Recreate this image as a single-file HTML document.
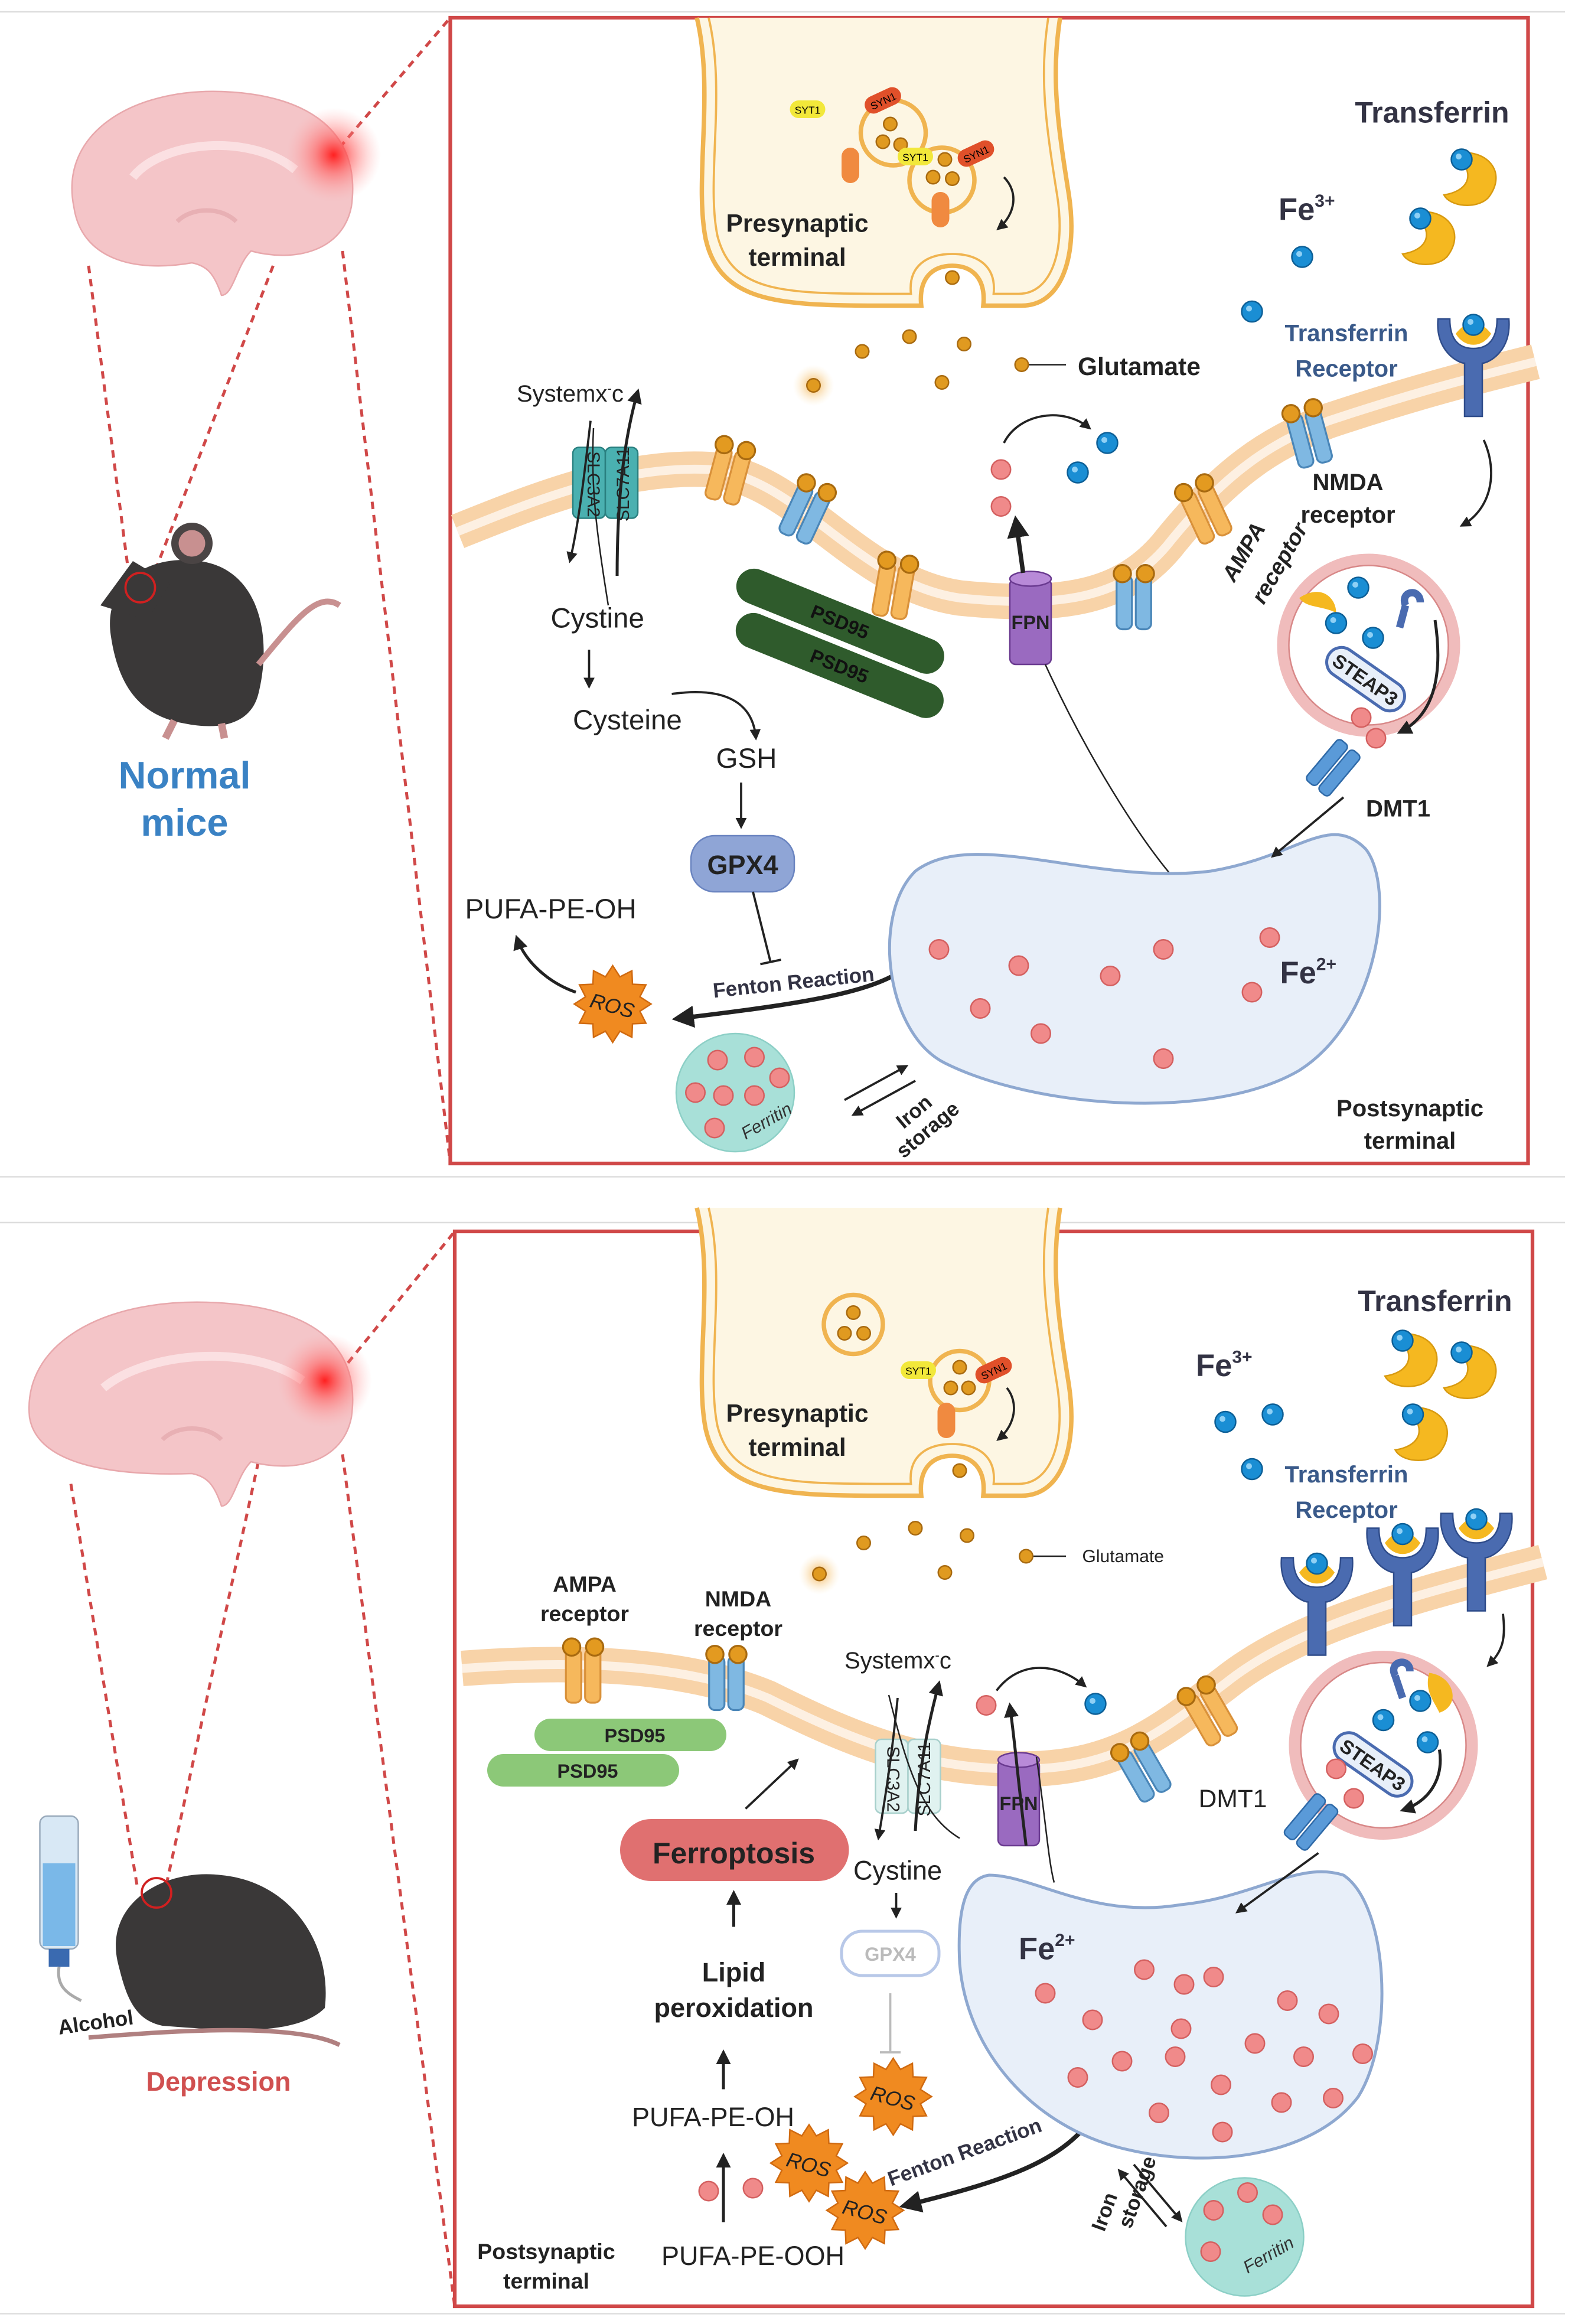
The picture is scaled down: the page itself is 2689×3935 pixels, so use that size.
<!DOCTYPE html>
<html><head><meta charset="utf-8"><style>html,body{margin:0;padding:0;background:#fff}svg{display:block}text{font-family:"Liberation Sans",sans-serif}</style></head><body>
<svg width="2689" height="3935" viewBox="0 0 1075.6 1574" xmlns="http://www.w3.org/2000/svg">
<defs>
<radialGradient id="glow"><stop offset="0" stop-color="#ff2020"/><stop offset=".4" stop-color="#ff6060" stop-opacity=".6"/><stop offset="1" stop-color="#ffaaaa" stop-opacity="0"/></radialGradient>
<radialGradient id="glow2"><stop offset="0" stop-color="#e08a10"/><stop offset=".35" stop-color="#f5c070" stop-opacity=".6"/><stop offset="1" stop-color="#fde8c0" stop-opacity="0"/></radialGradient>
<g id="rO"><g transform="scale(1.3)"><rect x="-9" y="-14" width="8" height="28" rx="3" fill="#f6b85c" stroke="#d9913a"/><rect x="1" y="-14" width="8" height="28" rx="3" fill="#f6b85c" stroke="#d9913a"/><circle cx="-6" cy="-15" r="4.5" fill="#e39a20" stroke="#a86a10"/><circle cx="6" cy="-15" r="4.5" fill="#e39a20" stroke="#a86a10"/></g></g>
<g id="rB"><g transform="scale(1.3)"><rect x="-9" y="-14" width="8" height="28" rx="3" fill="#7fb8e2" stroke="#4a86b8"/><rect x="1" y="-14" width="8" height="28" rx="3" fill="#7fb8e2" stroke="#4a86b8"/><circle cx="-6" cy="-15" r="4.5" fill="#e39a20" stroke="#a86a10"/><circle cx="6" cy="-15" r="4.5" fill="#e39a20" stroke="#a86a10"/></g></g>
<g id="f2"><circle r="6.5" fill="#f08a8a" stroke="#d46060"/></g>
<g id="f3"><circle r="7" fill="#1a8ed4" stroke="#0d5f96"/><circle cx="-2" cy="-2" r="2" fill="#8fd0f5"/></g>
<g id="glu"><circle r="4.5" fill="#e09a20" stroke="#a86a10"/></g>
<g id="tf"><path d="M-12,-16 C8,-20 24,-4 10,14 C2,22 -16,20 -20,12 C-6,10 4,0 -12,-16Z" fill="#f5b820" stroke="#d89a10"/><use href="#f3" x="-8" y="-12"/></g>
<g id="tfr"><path d="M-24,-20 C-26,2 -10,10 -6,10 L-6,46 L6,46 L6,10 C10,10 26,2 24,-20 L16,-20 C16,-4 8,0 0,0 C-8,0 -16,-4 -16,-20Z" fill="#4a6bb0" stroke="#2f4c8a"/><path d="M-12,-10 C-4,-20 4,-20 12,-10 C6,0 -6,0 -12,-10Z" fill="#f5b820"/><use href="#f3" x="0" y="-16"/></g>
<g id="ros"><polygon points="26,0 18.4,4.9 22.5,13 13.4,13.4 13,22.5 4.9,18.4 0,26 -4.9,18.4 -13,22.5 -13.4,13.4 -22.5,13 -18.4,4.9 -26,0 -18.4,-4.9 -22.5,-13 -13.4,-13.4 -13,-22.5 -4.9,-18.4 0,-26 4.9,-18.4 13,-22.5 13.4,-13.4 22.5,-13 18.4,-4.9" fill="#f08a20" stroke="#d06a10"/></g>
<g id="dmt"><g transform="rotate(40)"><rect x="-10" y="-18" width="9" height="36" rx="3" fill="#5a9ad8" stroke="#2f6aa8"/><rect x="1" y="-18" width="9" height="36" rx="3" fill="#5a9ad8" stroke="#2f6aa8"/></g></g>
<g id="fpn"><rect x="-14" y="-28" width="28" height="58" rx="4" fill="#9a6ac0" stroke="#6a3a90"/><ellipse cx="0" cy="-28" rx="14" ry="5" fill="#b88ad8" stroke="#6a3a90"/><text x="0" y="6" font-size="13" font-weight="bold" text-anchor="middle" fill="#222">FPN</text></g>
<marker id="ah" viewBox="0 0 10 10" refX="8" refY="5" markerWidth="5" markerHeight="5" orient="auto-start-reverse"><path d="M0,0 L10,5 L0,10z" fill="#222"/></marker>
<g id="presyn"><path d="M472,0 C484,50 470,110 478,150 C488,194 530,195 600,195 L624,195 C622,176 632,168 645,168 C658,168 668,176 666,195 L692,195 C720,195 730,160 724,120 C716,70 712,40 718,0" fill="#fdf6e3" stroke="#f0b450" stroke-width="3"/><path d="M480,0 C492,50 478,110 486,148 C496,186 530,187 600,187 L617,187 C615,168 628,160 645,160 C662,160 675,168 673,187 L690,187 C712,187 722,158 716,120 C708,70 704,40 710,0" fill="none" stroke="#f0b450" stroke-width="1.5"/><text x="540" y="145" font-size="17" font-weight="bold" text-anchor="middle" fill="#222">Presynaptic</text><text x="540" y="168" font-size="17" font-weight="bold" text-anchor="middle" fill="#222">terminal</text></g>
</defs>

<line x1="0" y1="8" x2="1060" y2="8" stroke="#ddd"/>
<line x1="0" y1="797" x2="1060" y2="797" stroke="#ddd"/>
<line x1="0" y1="828" x2="1060" y2="828" stroke="#ddd"/>
<line x1="0" y1="1567" x2="1060" y2="1567" stroke="#ddd"/>

<!-- ===== PANEL 1 ===== -->
<rect x="305" y="12" width="730" height="776" fill="none" stroke="#d04848" stroke-width="2.5"/>
<g stroke="#d04848" stroke-width="2" stroke-dasharray="5,4" fill="none">
<line x1="230" y1="100" x2="305" y2="12"/><line x1="232" y1="170" x2="305" y2="788"/><line x1="60" y1="180" x2="88" y2="395"/><line x1="185" y1="180" x2="103" y2="392"/></g>
<path d="M50,140 C40,90 90,60 150,62 C210,64 245,90 238,140 C232,170 200,178 170,170 C160,180 158,200 150,200 C145,185 140,180 130,178 C90,185 55,175 50,140Z" fill="#f4c5c8" stroke="#e8a8ac"/>
<path d="M90,120 C110,95 170,90 200,115" fill="none" stroke="#fbe0e2" stroke-width="6"/>
<path d="M120,150 C130,140 150,140 160,150" fill="none" stroke="#e8b0b4" stroke-width="3"/>
<circle cx="226" cy="105" r="32" fill="url(#glow)"/>
<path d="M75,430 C70,395 100,375 135,380 C175,385 185,430 175,470 C170,490 150,495 125,490 C95,485 80,465 75,430Z" fill="#3a3838"/>
<path d="M68,410 L90,380 L115,395 L100,420Z" fill="#3a3838"/>
<circle cx="130" cy="368" r="14" fill="#4a4444"/><circle cx="130" cy="368" r="9" fill="#c89090"/>
<circle cx="95" cy="398" r="10" fill="none" stroke="#d02020" stroke-width="1.5"/>
<path d="M175,450 C200,420 215,400 230,410" fill="none" stroke="#c89090" stroke-width="4"/>
<path d="M118,488 L112,500 M150,490 L152,500" stroke="#c89090" stroke-width="5"/>
<text x="125" y="534" font-size="26" font-weight="bold" fill="#3a82c4" text-anchor="middle">Normal</text>
<text x="125" y="566" font-size="26" font-weight="bold" fill="#3a82c4" text-anchor="middle">mice</text>

<use href="#presyn" x="0" y="12"/>
<circle cx="605" cy="90" r="22" fill="#fdf6e3" stroke="#f0b450" stroke-width="3"/>
<circle cx="638" cy="122" r="22" fill="#fdf6e3" stroke="#f0b450" stroke-width="3"/>
<use href="#glu" x="603" y="84"/><use href="#glu" x="598" y="96"/><use href="#glu" x="610" y="98"/><use href="#glu" x="640" y="108"/><use href="#glu" x="632" y="120"/><use href="#glu" x="645" y="121"/>
<rect x="535" y="68" width="24" height="12" rx="6" fill="#f2e83a"/><text x="547" y="77" font-size="7" text-anchor="middle">SYT1</text>
<rect x="585" y="62" width="26" height="12" rx="6" fill="#e0502a" transform="rotate(-25 598 68)"/><text x="598" y="71" font-size="7" text-anchor="middle" transform="rotate(-25 598 68)">SYN1</text>
<rect x="570" y="100" width="12" height="24" rx="6" fill="#f08a40"/>
<rect x="608" y="100" width="24" height="12" rx="6" fill="#f2e83a"/><text x="620" y="109" font-size="7" text-anchor="middle">SYT1</text>
<rect x="648" y="98" width="26" height="12" rx="6" fill="#e0502a" transform="rotate(-25 661 104)"/><text x="661" y="107" font-size="7" text-anchor="middle" transform="rotate(-25 661 104)">SYN1</text>
<rect x="631" y="130" width="12" height="24" rx="6" fill="#f08a40"/>
<path d="M680,120 C690,130 688,145 676,155" fill="none" stroke="#222" stroke-width="1.5" marker-end="url(#ah)"/>
<use href="#glu" x="645" y="188"/><use href="#glu" x="584" y="238"/><use href="#glu" x="616" y="228"/><use href="#glu" x="653" y="233"/><use href="#glu" x="638" y="259"/><use href="#glu" x="692" y="247"/>
<circle cx="551" cy="261" r="14" fill="url(#glow2)"/><use href="#glu" x="551" y="261"/>
<line x1="697" y1="247" x2="722" y2="247" stroke="#222"/>
<text x="730" y="254" font-size="17" font-weight="bold" fill="#222">Glutamate</text>

<path d="M310,360 C360,340 420,315 480,318 C540,322 580,395 650,405 C720,412 760,405 790,370 C830,320 860,300 900,285 C960,265 1000,255 1040,245" fill="none" stroke="#f8d3a8" stroke-width="24"/>
<path d="M310,360 C360,340 420,315 480,318 C540,322 580,395 650,405 C720,412 760,405 790,370 C830,320 860,300 900,285 C960,265 1000,255 1040,245" fill="none" stroke="#fdf0e2" stroke-width="6"/>
<rect x="388" y="303" width="22" height="48" rx="4" fill="#4ab0b0" stroke="#2a8080"/><rect x="410" y="303" width="22" height="48" rx="4" fill="#4ab0b0" stroke="#2a8080"/>
<text transform="translate(398,328) rotate(90)" font-size="12" text-anchor="middle" fill="#222">SLC3A2</text>
<text transform="translate(426,328) rotate(-90)" font-size="12" text-anchor="middle" fill="#222">SLC7A11</text>
<path d="M402,290 C400,330 404,360 412,410" fill="none" stroke="#222" stroke-width="1"/>
<path d="M418,390 C418,340 422,300 432,265" fill="none" stroke="#222" stroke-width="2" marker-end="url(#ah)"/>
<path d="M400,285 C396,320 392,355 386,380" fill="none" stroke="#222" stroke-width="1.5" marker-end="url(#ah)"/>
<text x="350" y="272" font-size="16" fill="#222">Systemx<tspan font-size="9" dy="-6">-</tspan><tspan dy="6">c</tspan></text>
<use href="#rO" x="493" y="322" transform="rotate(15 493 322)"/>
<use href="#rB" x="545" y="348" transform="rotate(25 545 348)"/>
<use href="#rO" x="605" y="400" transform="rotate(10 605 400)"/>
<use href="#rB" x="768" y="408"/>
<use href="#rO" x="817" y="348" transform="rotate(-25 817 348)"/>
<use href="#rB" x="887" y="297" transform="rotate(-15 887 297)"/>
<use href="#fpn" x="698" y="420"/>
<path d="M693,388 L688,352" stroke="#222" stroke-width="3" marker-end="url(#ah)"/>
<path d="M708,450 C740,520 780,580 800,600" fill="none" stroke="#222"/>
<use href="#f2" x="678" y="318"/><use href="#f2" x="678" y="343"/>
<use href="#f3" x="730" y="320"/><use href="#f3" x="750" y="300"/>
<path d="M680,300 C690,280 720,275 738,290" fill="none" stroke="#222" stroke-width="1.5" marker-end="url(#ah)"/>
<g transform="rotate(22 560 430)"><rect x="490" y="406" width="150" height="24" rx="12" fill="#2f5b2c"/><text x="565" y="423" font-size="13" font-weight="bold" text-anchor="middle" fill="#111">PSD95</text></g>
<g transform="rotate(22 565 460)"><rect x="490" y="438" width="150" height="24" rx="12" fill="#2f5b2c"/><text x="565" y="455" font-size="13" font-weight="bold" text-anchor="middle" fill="#111">PSD95</text></g>
<text x="373" y="425" font-size="19" fill="#222">Cystine</text>
<path d="M399,440 L399,465" stroke="#222" stroke-width="1.5" marker-end="url(#ah)"/>
<text x="388" y="494" font-size="19" fill="#222">Cysteine</text>
<path d="M455,470 C490,465 510,475 512,500" fill="none" stroke="#222" stroke-width="1.5" marker-end="url(#ah)"/>
<text x="485" y="520" font-size="19" fill="#222">GSH</text>
<path d="M502,530 L502,560" stroke="#222" stroke-width="1.5" marker-end="url(#ah)"/>
<rect x="468" y="566" width="70" height="38" rx="16" fill="#8fa5d6" stroke="#6a84c0"/>
<text x="503" y="592" font-size="18" font-weight="bold" text-anchor="middle" fill="#222">GPX4</text>
<path d="M510,604 L522,652 M515,653 L529,650" stroke="#222" stroke-width="1.5"/>
<text x="315" y="622" font-size="19" fill="#222">PUFA-PE-OH</text>
<use href="#ros" x="415" y="680"/>
<text x="415" y="686" font-size="14" font-style="italic" text-anchor="middle" fill="#222" transform="rotate(15 415 680)">ROS</text>
<path d="M390,672 C370,665 355,650 350,635" fill="none" stroke="#222" stroke-width="2" marker-end="url(#ah)"/>
<path d="M620,650 C600,670 560,678 458,690" fill="none" stroke="#222" stroke-width="3" marker-end="url(#ah)"/>
<text x="538" y="670" font-size="14" font-weight="bold" fill="#334" text-anchor="middle" transform="rotate(-6 538 670)">Fenton Reaction</text>
<circle cx="498" cy="740" r="40" fill="#a8e0d8" stroke="#8ccfc6"/>
<use href="#f2" x="486" y="718"/><use href="#f2" x="511" y="716"/><use href="#f2" x="528" y="730"/><use href="#f2" x="471" y="740"/><use href="#f2" x="490" y="742"/><use href="#f2" x="511" y="742"/><use href="#f2" x="484" y="764"/>
<text x="505" y="772" font-size="12" font-style="italic" fill="#333" transform="rotate(-30 505 772)">Ferritin</text>
<path d="M572,745 L614,722" stroke="#222" stroke-width="1.5" marker-end="url(#ah)"/>
<path d="M620,732 L578,755" stroke="#222" stroke-width="1.5" marker-end="url(#ah)"/>
<text x="612" y="765" font-size="14" font-weight="bold" fill="#222" transform="rotate(-40 612 765)">Iron</text>
<text x="612" y="785" font-size="14" font-weight="bold" fill="#222" transform="rotate(-40 612 785)">storage</text>
<path d="M620,590 C660,560 740,600 820,590 C880,580 900,550 925,575 C945,600 935,690 880,725 C820,760 700,750 640,720 C600,700 590,620 620,590Z" fill="#e8eff9" stroke="#8ea8d0" stroke-width="2"/>
<use href="#f2" x="636" y="643"/><use href="#f2" x="690" y="654"/><use href="#f2" x="752" y="661"/><use href="#f2" x="788" y="643"/><use href="#f2" x="860" y="635"/><use href="#f2" x="848" y="672"/><use href="#f2" x="664" y="683"/><use href="#f2" x="705" y="700"/><use href="#f2" x="788" y="717"/>
<text x="867" y="666" font-size="21" font-weight="bold" fill="#334">Fe<tspan font-size="12" dy="-9">2+</tspan></text>
<text x="955" y="756" font-size="16" font-weight="bold" text-anchor="middle" fill="#222">Postsynaptic</text>
<text x="955" y="778" font-size="16" font-weight="bold" text-anchor="middle" fill="#222">terminal</text>
<text x="970" y="83" font-size="20" font-weight="bold" text-anchor="middle" fill="#334">Transferrin</text>
<text x="866" y="149" font-size="21" font-weight="bold" fill="#334">Fe<tspan font-size="12" dy="-9">3+</tspan></text>
<use href="#tf" x="998" y="120"/><use href="#tf" x="970" y="160"/>
<use href="#f3" x="882" y="174"/><use href="#f3" x="848" y="211"/>
<text x="912" y="231" font-size="16" font-weight="bold" text-anchor="middle" fill="#3a5a8a">Transferrin</text>
<text x="912" y="255" font-size="16" font-weight="bold" text-anchor="middle" fill="#3a5a8a">Receptor</text>
<use href="#tfr" x="998" y="236"/>
<text x="913" y="332" font-size="16" font-weight="bold" text-anchor="middle" fill="#222">NMDA</text>
<text x="913" y="354" font-size="16" font-weight="bold" text-anchor="middle" fill="#222">receptor</text>
<text x="836" y="395" font-size="15" font-weight="bold" font-style="italic" fill="#222" transform="rotate(-60 836 395)">AMPA</text>
<text x="856" y="410" font-size="15" font-weight="bold" font-style="italic" fill="#222" transform="rotate(-60 856 410)">receptor</text>
<path d="M1005,298 C1015,320 1010,345 990,356" fill="none" stroke="#222" stroke-width="1.5" marker-end="url(#ah)"/>
<circle cx="927" cy="437" r="58" fill="#fff" stroke="#f0bcbc" stroke-width="8"/>
<circle cx="927" cy="437" r="54" fill="none" stroke="#d88888" stroke-width="1"/>
<path d="M880,405 C895,395 905,405 905,415 C895,410 885,412 880,405Z" fill="#f5b820"/>
<use href="#f3" x="920" y="398"/><use href="#f3" x="905" y="422"/><use href="#f3" x="930" y="432"/>
<path d="M948,425 L952,410 M952,410 C948,400 962,398 962,408" stroke="#4a6bb0" stroke-width="5" fill="none"/>
<g transform="rotate(35 925 460)"><rect x="895" y="450" width="60" height="20" rx="10" fill="#e8eff9" stroke="#4a6bb0" stroke-width="2"/><text x="925" y="465" font-size="13" font-weight="bold" text-anchor="middle" fill="#222">STEAP3</text></g>
<use href="#f2" x="922" y="486"/><use href="#f2" x="932" y="500"/>
<path d="M972,420 C978,460 970,485 948,496" fill="none" stroke="#222" stroke-width="2" marker-end="url(#ah)"/>
<use href="#dmt" x="903" y="520"/>
<text x="947" y="553" font-size="16" font-weight="bold" text-anchor="middle" fill="#222">DMT1</text>
<path d="M910,540 L862,580" stroke="#222" stroke-width="1.5" marker-end="url(#ah)"/>

<!-- ===== PANEL 2 ===== -->
<rect x="308" y="834" width="730" height="728" fill="none" stroke="#d04848" stroke-width="2.5"/>
<g stroke="#d04848" stroke-width="2" stroke-dasharray="5,4" fill="none">
<line x1="230" y1="930" x2="308" y2="834"/><line x1="232" y1="985" x2="308" y2="1562"/><line x1="48" y1="1005" x2="93" y2="1278"/><line x1="175" y1="990" x2="113" y2="1275"/></g>
<path d="M20,960 C15,910 70,880 140,882 C210,884 245,910 238,960 C232,990 200,998 170,990 C160,1000 158,1020 150,1020 C145,1005 140,1000 130,998 C70,1000 25,990 20,960Z" fill="#f4c5c8" stroke="#e8a8ac"/>
<path d="M70,940 C100,915 170,910 205,935" fill="none" stroke="#fbe0e2" stroke-width="6"/>
<path d="M110,975 C120,965 140,965 150,975" fill="none" stroke="#e8b0b4" stroke-width="3"/>
<circle cx="220" cy="935" r="32" fill="url(#glow)"/>
<rect x="27" y="1230" width="26" height="90" rx="5" fill="#d8e8f5" stroke="#9ab"/><rect x="29" y="1262" width="22" height="56" fill="#7ab8e8"/><rect x="33" y="1320" width="14" height="12" fill="#3a6ab0"/>
<path d="M40,1332 C38,1345 45,1350 55,1355" fill="none" stroke="#aaa" stroke-width="2"/>
<text x="40" y="1378" font-size="14" font-weight="bold" fill="#222" transform="rotate(-8 40 1378)">Alcohol</text>
<path d="M80,1330 C70,1290 110,1265 150,1270 C200,1275 225,1320 220,1360 C200,1380 150,1375 110,1372 C90,1368 85,1350 80,1330Z" fill="#3a3838"/>
<circle cx="106" cy="1282" r="10" fill="none" stroke="#d02020" stroke-width="1.5"/>
<path d="M60,1380 C120,1375 200,1370 230,1385" fill="none" stroke="#b08080" stroke-width="3"/>
<text x="148" y="1416" font-size="18" font-weight="bold" fill="#d05050" text-anchor="middle">Depression</text>

<use href="#presyn" x="0" y="818"/>
<circle cx="578" cy="897" r="20" fill="#fdf6e3" stroke="#f0b450" stroke-width="3"/>
<use href="#glu" x="578" y="889"/><use href="#glu" x="572" y="903"/><use href="#glu" x="585" y="903"/>
<circle cx="650" cy="935" r="20" fill="#fdf6e3" stroke="#f0b450" stroke-width="3"/>
<use href="#glu" x="650" y="926"/><use href="#glu" x="644" y="940"/><use href="#glu" x="656" y="940"/>
<rect x="610" y="922" width="24" height="12" rx="6" fill="#f2e83a"/><text x="622" y="931" font-size="7" text-anchor="middle">SYT1</text>
<rect x="660" y="922" width="26" height="12" rx="6" fill="#e0502a" transform="rotate(-25 673 928)"/><text x="673" y="931" font-size="7" text-anchor="middle" transform="rotate(-25 673 928)">SYN1</text>
<rect x="635" y="950" width="12" height="24" rx="6" fill="#f08a40"/>
<path d="M682,940 C690,950 688,965 676,975" fill="none" stroke="#222" stroke-width="1.5" marker-end="url(#ah)"/>
<use href="#glu" x="650" y="996"/><use href="#glu" x="585" y="1045"/><use href="#glu" x="620" y="1035"/><use href="#glu" x="655" y="1040"/><use href="#glu" x="640" y="1065"/><use href="#glu" x="695" y="1054"/>
<circle cx="555" cy="1066" r="14" fill="url(#glow2)"/><use href="#glu" x="555" y="1066"/>
<line x1="700" y1="1054" x2="722" y2="1054" stroke="#222"/>
<text x="733" y="1058" font-size="12" fill="#222">Glutamate</text>

<path d="M313,1130 C380,1125 460,1125 520,1150 C580,1180 630,1200 700,1198 C760,1196 790,1170 830,1140 C880,1100 960,1080 1045,1058" fill="none" stroke="#f8d3a8" stroke-width="24"/>
<path d="M313,1130 C380,1125 460,1125 520,1150 C580,1180 630,1200 700,1198 C760,1196 790,1170 830,1140 C880,1100 960,1080 1045,1058" fill="none" stroke="#fdf0e2" stroke-width="6"/>
<text x="396" y="1078" font-size="15" font-weight="bold" text-anchor="middle" fill="#222">AMPA</text>
<text x="396" y="1098" font-size="15" font-weight="bold" text-anchor="middle" fill="#222">receptor</text>
<text x="500" y="1088" font-size="15" font-weight="bold" text-anchor="middle" fill="#222">NMDA</text>
<text x="500" y="1108" font-size="15" font-weight="bold" text-anchor="middle" fill="#222">receptor</text>
<use href="#rO" x="395" y="1135"/><use href="#rB" x="492" y="1140"/>
<use href="#rB" x="775" y="1200" transform="rotate(-30 775 1200)"/><use href="#rO" x="820" y="1162" transform="rotate(-30 820 1162)"/>
<rect x="362" y="1164" width="130" height="22" rx="11" fill="#8cc878"/><text x="430" y="1180" font-size="13" font-weight="bold" text-anchor="middle" fill="#222">PSD95</text>
<rect x="330" y="1188" width="130" height="22" rx="11" fill="#8cc878"/><text x="398" y="1204" font-size="13" font-weight="bold" text-anchor="middle" fill="#222">PSD95</text>
<rect x="593" y="1178" width="22" height="50" rx="4" fill="#e0f2f0" stroke="#a8d0cc"/><rect x="615" y="1178" width="22" height="50" rx="4" fill="#e0f2f0" stroke="#a8d0cc"/>
<text transform="translate(601,1205) rotate(90)" font-size="12" text-anchor="middle" fill="#222">SLC3A2</text>
<text transform="translate(630,1205) rotate(-90)" font-size="12" text-anchor="middle" fill="#222">SLC7A11</text>
<text x="572" y="1130" font-size="16" fill="#222">Systemx<tspan font-size="9" dy="-6">-</tspan><tspan dy="6">c</tspan></text>
<path d="M608,1150 C604,1190 600,1215 595,1245" fill="none" stroke="#222" stroke-width="1.5" marker-end="url(#ah)"/>
<path d="M620,1240 C622,1200 628,1170 636,1140" fill="none" stroke="#222" stroke-width="2" marker-end="url(#ah)"/>
<path d="M602,1148 C615,1200 625,1230 650,1245" fill="none" stroke="#222"/>
<use href="#fpn" x="690" y="1220"/>
<path d="M695,1250 C690,1210 688,1185 684,1155" fill="none" stroke="#222" stroke-width="2" marker-end="url(#ah)"/>
<path d="M702,1190 C708,1230 710,1260 714,1275" fill="none" stroke="#222"/>
<use href="#f2" x="668" y="1155"/><use href="#f3" x="742" y="1154"/>
<path d="M675,1145 C690,1125 715,1125 735,1142" fill="none" stroke="#222" stroke-width="1.5" marker-end="url(#ah)"/>
<rect x="420" y="1232" width="155" height="42" rx="21" fill="#e07070"/>
<text x="497" y="1262" font-size="20" font-weight="bold" text-anchor="middle" fill="#222">Ferroptosis</text>
<path d="M505,1225 L540,1192" stroke="#222" stroke-width="1.5" marker-end="url(#ah)"/>
<path d="M497,1305 L497,1282" stroke="#222" stroke-width="2" marker-end="url(#ah)"/>
<text x="497" y="1342" font-size="18" font-weight="bold" text-anchor="middle" fill="#222">Lipid</text>
<text x="497" y="1366" font-size="18" font-weight="bold" text-anchor="middle" fill="#222">peroxidation</text>
<path d="M490,1415 L490,1390" stroke="#222" stroke-width="2" marker-end="url(#ah)"/>
<text x="428" y="1440" font-size="18" fill="#222">PUFA-PE-OH</text>
<path d="M490,1505 L490,1460" stroke="#222" stroke-width="2" marker-end="url(#ah)"/>
<use href="#f2" x="480" y="1484"/><use href="#f2" x="510" y="1482"/>
<text x="448" y="1534" font-size="18" fill="#222">PUFA-PE-OOH</text>
<text x="370" y="1530" font-size="15" font-weight="bold" text-anchor="middle" fill="#222">Postsynaptic</text>
<text x="370" y="1550" font-size="15" font-weight="bold" text-anchor="middle" fill="#222">terminal</text>
<text x="578" y="1273" font-size="18" fill="#222">Cystine</text>
<path d="M607,1282 L607,1298" stroke="#222" stroke-width="1.5" marker-end="url(#ah)"/>
<rect x="570" y="1308" width="66" height="30" rx="14" fill="#fff" stroke="#b8c8e8" stroke-width="2"/>
<text x="603" y="1328" font-size="13" font-weight="bold" text-anchor="middle" fill="#bbb">GPX4</text>
<path d="M603,1350 L603,1390 M596,1390 L610,1390" stroke="#bbb" stroke-width="1.5"/>
<use href="#ros" x="605" y="1420"/><text x="605" y="1426" font-size="14" font-style="italic" text-anchor="middle" fill="#222" transform="rotate(15 605 1420)">ROS</text>
<use href="#ros" x="548" y="1465"/><text x="548" y="1471" font-size="14" font-style="italic" text-anchor="middle" fill="#222" transform="rotate(15 548 1465)">ROS</text>
<use href="#ros" x="586" y="1497"/><text x="586" y="1503" font-size="14" font-style="italic" text-anchor="middle" fill="#222" transform="rotate(15 586 1497)">ROS</text>
<path d="M742,1432 C720,1462 690,1475 612,1494" fill="none" stroke="#222" stroke-width="3" marker-end="url(#ah)"/>
<text x="655" y="1462" font-size="14" font-weight="bold" fill="#334" text-anchor="middle" transform="rotate(-20 655 1462)">Fenton Reaction</text>
<path d="M670,1270 C700,1270 740,1300 800,1290 C850,1285 880,1260 910,1270 C940,1290 945,1380 920,1420 C890,1460 820,1470 760,1455 C700,1440 655,1390 650,1330 C648,1290 655,1272 670,1270Z" fill="#e8eff9" stroke="#8ea8d0" stroke-width="2"/>
<text x="690" y="1327" font-size="21" font-weight="bold" fill="#334">Fe<tspan font-size="12" dy="-9">2+</tspan></text>
<use href="#f2" x="775" y="1334"/><use href="#f2" x="802" y="1344"/><use href="#f2" x="822" y="1339"/><use href="#f2" x="708" y="1350"/><use href="#f2" x="740" y="1368"/><use href="#f2" x="872" y="1355"/><use href="#f2" x="900" y="1364"/><use href="#f2" x="800" y="1374"/><use href="#f2" x="850" y="1384"/><use href="#f2" x="883" y="1393"/><use href="#f2" x="923" y="1391"/><use href="#f2" x="760" y="1396"/><use href="#f2" x="796" y="1393"/><use href="#f2" x="730" y="1407"/><use href="#f2" x="827" y="1412"/><use href="#f2" x="868" y="1424"/><use href="#f2" x="903" y="1421"/><use href="#f2" x="785" y="1431"/><use href="#f2" x="828" y="1444"/>
<path d="M790,1508 L758,1470" stroke="#222" stroke-width="1.5" marker-end="url(#ah)"/>
<path d="M768,1466 L800,1504" stroke="#222" stroke-width="1.5" marker-end="url(#ah)"/>
<text x="748" y="1512" font-size="14" font-weight="bold" fill="#222" transform="rotate(-70 748 1512)">Iron</text>
<text x="766" y="1510" font-size="14" font-weight="bold" fill="#222" transform="rotate(-70 766 1510)">storage</text>
<circle cx="843" cy="1515" r="40" fill="#a8e0d8" stroke="#8ccfc6"/>
<use href="#f2" x="822" y="1497"/><use href="#f2" x="845" y="1485"/><use href="#f2" x="862" y="1500"/><use href="#f2" x="820" y="1525"/>
<text x="845" y="1540" font-size="12" font-style="italic" fill="#333" transform="rotate(-30 845 1540)">Ferritin</text>
<text x="972" y="888" font-size="20" font-weight="bold" text-anchor="middle" fill="#334">Transferrin</text>
<text x="810" y="932" font-size="21" font-weight="bold" fill="#334">Fe<tspan font-size="12" dy="-9">3+</tspan></text>
<use href="#tf" x="958" y="920"/><use href="#tf" x="998" y="928"/><use href="#tf" x="965" y="970"/>
<use href="#f3" x="830" y="963"/><use href="#f3" x="862" y="958"/><use href="#f3" x="848" y="995"/>
<text x="912" y="1004" font-size="16" font-weight="bold" text-anchor="middle" fill="#3a5a8a">Transferrin</text>
<text x="912" y="1028" font-size="16" font-weight="bold" text-anchor="middle" fill="#3a5a8a">Receptor</text>
<use href="#tfr" x="892" y="1075"/><use href="#tfr" x="950" y="1055"/><use href="#tfr" x="1000" y="1045"/>
<path d="M1018,1093 C1020,1110 1018,1118 1008,1128" fill="none" stroke="#222" stroke-width="1.5" marker-end="url(#ah)"/>
<circle cx="937" cy="1182" r="60" fill="#fff" stroke="#f0bcbc" stroke-width="8"/>
<circle cx="937" cy="1182" r="56" fill="none" stroke="#d88888" stroke-width="1"/>
<path d="M950,1150 L945,1135 M945,1135 C940,1125 955,1122 955,1132" stroke="#4a6bb0" stroke-width="5" fill="none"/>
<path d="M968,1133 C985,1135 990,1155 975,1160 C970,1150 965,1145 968,1133Z" fill="#f5b820"/>
<use href="#f3" x="962" y="1152"/><use href="#f3" x="937" y="1165"/><use href="#f3" x="967" y="1180"/>
<g transform="rotate(35 930 1195)"><rect x="900" y="1185" width="60" height="20" rx="10" fill="#e8eff9" stroke="#4a6bb0" stroke-width="2"/><text x="930" y="1200" font-size="13" font-weight="bold" text-anchor="middle" fill="#222">STEAP3</text></g>
<use href="#f2" x="905" y="1198"/><use href="#f2" x="917" y="1218"/>
<path d="M975,1185 C978,1205 968,1220 950,1226" fill="none" stroke="#222" stroke-width="2" marker-end="url(#ah)"/>
<use href="#dmt" x="888" y="1234"/>
<text x="835" y="1224" font-size="17" text-anchor="middle" fill="#222">DMT1</text>
<path d="M893,1255 L838,1295" stroke="#222" stroke-width="1.5" marker-end="url(#ah)"/>
</svg>
</body></html>
